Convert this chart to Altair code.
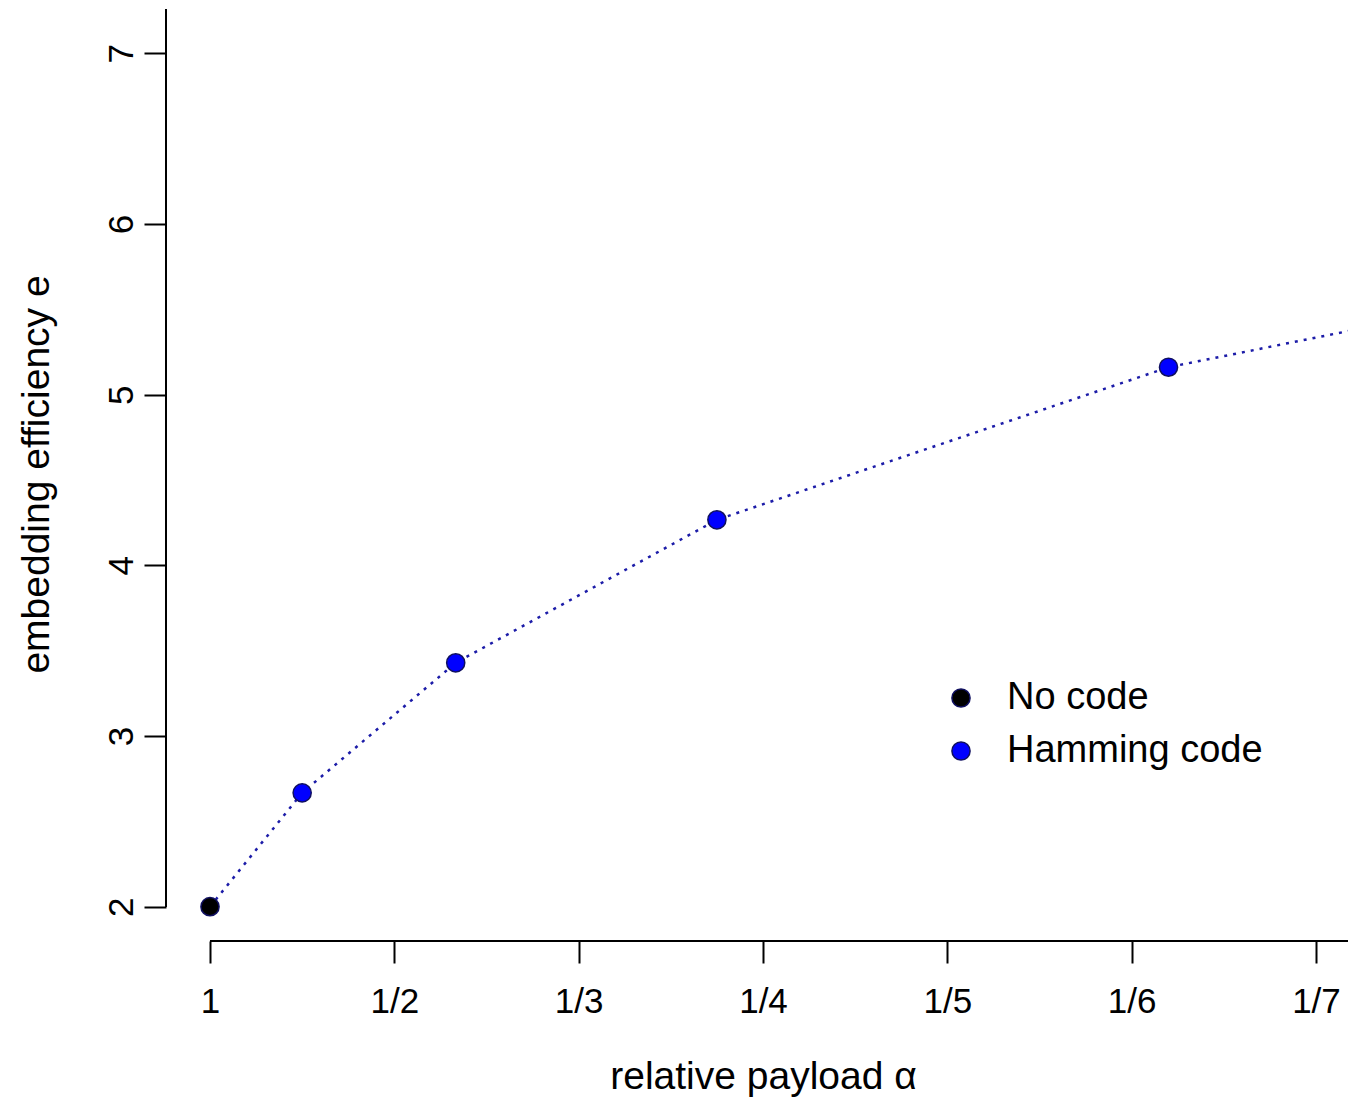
import altair as alt
import pandas as pd

# Embedding efficiency vs. relative payload (x positioned by 1/alpha)
inv_payload = [1.0, 1.5, 2.333, 3.75, 6.2, 10.5]
efficiency = [2.0, 2.667, 3.429, 4.267, 5.161, 6.095]
code_type = ["No code", "Hamming code", "Hamming code", "Hamming code",
             "Hamming code", "Hamming code"]

x_ticks = [1, 2, 3, 4, 5, 6, 7]
y_ticks = [2, 3, 4, 5, 6, 7]
legend_names = ["No code", "Hamming code"]
legend_colors = ["#000000", "#0000ff"]

df = pd.DataFrame({"inv": inv_payload, "e": efficiency, "code": code_type})

FONT = "Liberation Sans"
W, H = 1182, 932
X_DOM = [0.7613, 7.1737]
Y_DOM = [1.799, 7.26]

x_enc = alt.X(
    "inv:Q",
    scale=alt.Scale(domain=X_DOM, nice=False, zero=False),
    axis=alt.Axis(
        values=x_ticks,
        labelExpr="datum.value == 1 ? '1' : '1/' + datum.value",
        title="relative payload α",
        domain=False, grid=False,
        tickSize=22, tickWidth=2, tickColor="black",
        labelFont=FONT, labelFontSize=35, labelColor="black",
        labelBaseline="alphabetic", labelPadding=49,
        labelFlush=False, labelOverlap=False,
        titleFont=FONT, titleFontSize=39, titleFontWeight="normal",
        titleColor="black", titleBaseline="alphabetic",
        titleX=597, titleY=147, titleAlign="center",
    ),
)
y_enc = alt.Y(
    "e:Q",
    scale=alt.Scale(domain=Y_DOM, nice=False, zero=False),
    axis=alt.Axis(
        values=y_ticks, format="d",
        title="embedding efficiency e",
        domain=False, grid=False,
        tickSize=22, tickWidth=2, tickColor="black",
        labelFont=FONT, labelFontSize=35, labelColor="black",
        labelAngle=270, labelAlign="center", labelBaseline="alphabetic",
        labelPadding=12, labelFlush=False, labelOverlap=False,
        titleFont=FONT, titleFontSize=39, titleFontWeight="normal",
        titleColor="black", titleAngle=270, titleBaseline="alphabetic",
        titleAlign="center", titleX=-118, titleY=465,
    ),
)

base = alt.Chart(df)

line = base.mark_line(
    color="#1c1ca8", strokeWidth=2.5, strokeDash=[3, 6], clip=True
).encode(x=x_enc, y=y_enc, order="inv:Q")

points = base.mark_circle(
    size=330, opacity=1, stroke="#101060", strokeWidth=1.5, clip=True
).encode(
    x=alt.X("inv:Q"),
    y=alt.Y("e:Q"),
    fill=alt.Fill(
        "code:N",
        scale=alt.Scale(domain=legend_names, range=legend_colors),
        legend=alt.Legend(
            title=None, orient="none", legendX=776, legendY=670,
            symbolType="circle", symbolSize=330,
            symbolStrokeColor="#101060", symbolStrokeWidth=1.5,
            labelFont=FONT, labelFontSize=38, labelColor="black",
            labelLimit=0, labelOffset=27, rowPadding=15,
        ),
    ),
)

# axis lines in R style: x from the first tick rightwards, y from 2 upwards
x_axis_line = base.mark_rule(color="black", strokeWidth=2).encode(
    x=alt.datum(1), x2=alt.value(W), y=alt.value(H)
)
y_axis_line = base.mark_rule(color="black", strokeWidth=2).encode(
    x=alt.value(0), y=alt.datum(2), y2=alt.value(0)
)

chart = (
    alt.layer(line, points, x_axis_line, y_axis_line)
    .properties(
        width=W, height=H,
        view=alt.ViewBackground(stroke="transparent", strokeWidth=0),
        autosize=alt.AutoSizeParams(type="none"),
        padding={"left": 166, "top": 9, "right": 0, "bottom": 161},
    )
    .configure_view(stroke="transparent", strokeWidth=0)
    .configure(background="white")
)

chart.save("out.html", embed_options={"renderer": "svg", "actions": False})
